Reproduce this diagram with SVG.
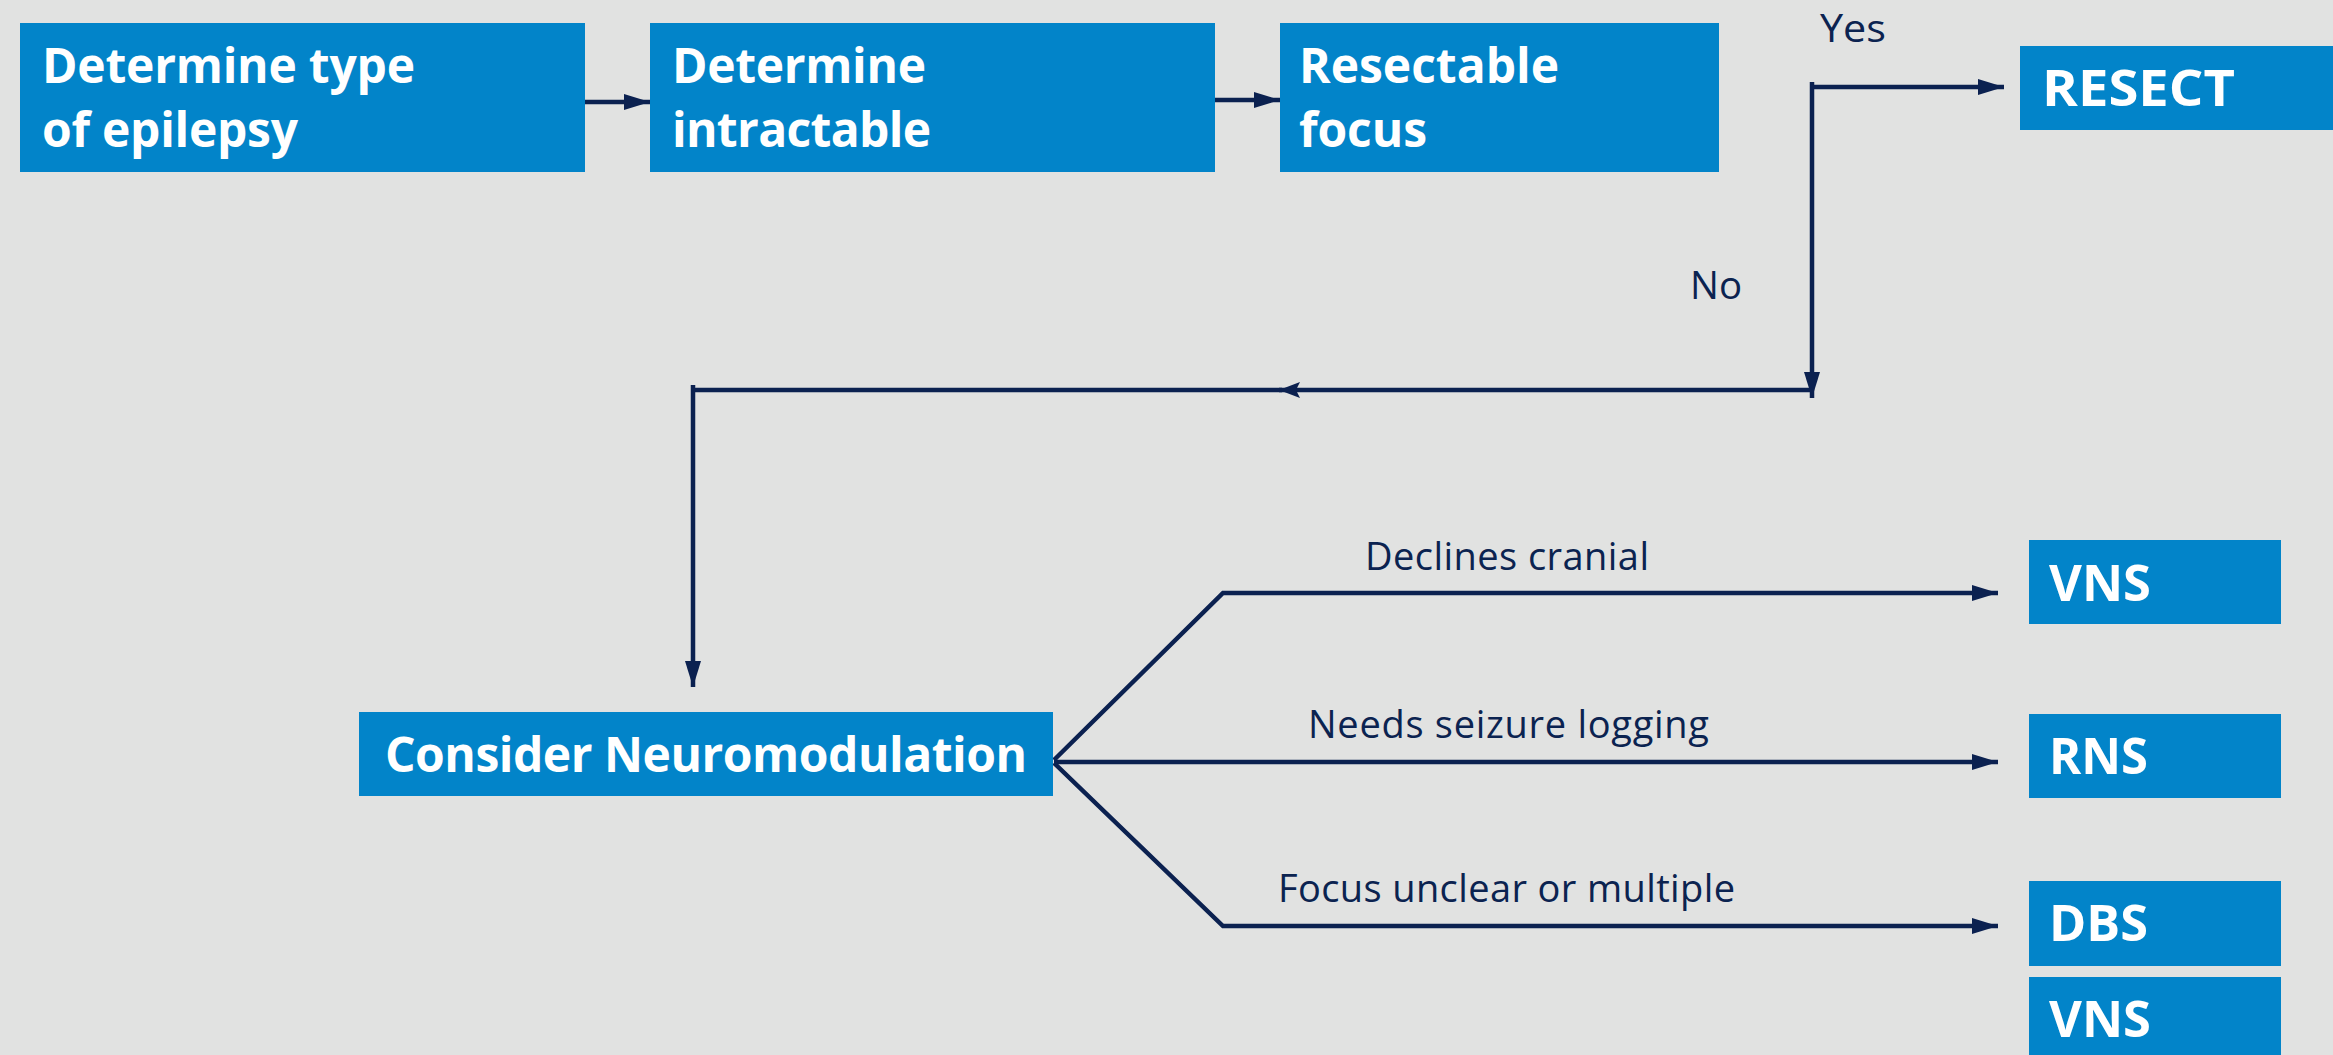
<svg xmlns="http://www.w3.org/2000/svg" width="2333" height="1055" viewBox="0 0 2333 1055">
<defs>
<style>
.box{fill:#0284C9}
.bt{font-family:"Open Sans",Lato,sans-serif;font-weight:700;font-size:48px;fill:#ffffff}
.cap{font-size:50px}
.lbl{font-family:"Open Sans",Lato,sans-serif;font-weight:400;font-size:38px;fill:#0B2350}
.ln{fill:none;stroke:#0B2150;stroke-width:4.5}
</style>
<marker id="ah" markerUnits="userSpaceOnUse" markerWidth="28" markerHeight="18" refX="26" refY="9" orient="auto">
<path d="M0,1 L26,9 L0,17 Z" fill="#0B2150"/>
</marker>
<marker id="ah2" markerUnits="userSpaceOnUse" markerWidth="24" markerHeight="18" refX="21" refY="9" orient="auto">
<path d="M0,1 L21,9 L0,17 L4,9 Z" fill="#0B2150"/>
</marker>
</defs>
<rect width="2333" height="1055" fill="#E1E2E1"/>
<g id="connectors">
<path class="ln" d="M585,102 H650" marker-end="url(#ah)"/>
<path class="ln" d="M1215,100 H1280" marker-end="url(#ah)"/>
<path class="ln" d="M1812,82 V398" marker-end="url(#ah)"/>
<path class="ln" d="M1810,87 H2004" marker-end="url(#ah)"/>
<path class="ln" d="M1812,390 H1279" marker-end="url(#ah2)"/>
<path class="ln" d="M1282,390 H693"/>
<path class="ln" d="M693,385 V687" marker-end="url(#ah)"/>
<path class="ln" d="M1054,760 L1223,593 H1998" marker-end="url(#ah)"/>
<path class="ln" d="M1054,762 H1998" marker-end="url(#ah)"/>
<path class="ln" d="M1054,763 L1223,926 H1998" marker-end="url(#ah)"/>
<text class="lbl" x="1820" y="42" textLength="66" lengthAdjust="spacingAndGlyphs">Yes</text>
<text class="lbl" x="1690" y="299" textLength="52" lengthAdjust="spacingAndGlyphs">No</text>
<text class="lbl" x="1365" y="570" textLength="284">Declines cranial</text>
<text class="lbl" x="1308" y="738" textLength="401">Needs seizure logging</text>
<text class="lbl" x="1278" y="902" textLength="457">Focus unclear or multiple</text>
</g>
<g id="n1"><rect class="box" x="20" y="23" width="565" height="149"/><text class="bt" x="42" y="83" textLength="373">Determine type</text><text class="bt" x="42" y="147" textLength="256">of epilepsy</text></g>
<g id="n2"><rect class="box" x="650" y="23" width="565" height="149"/><text class="bt" x="672" y="83" textLength="254">Determine</text><text class="bt" x="672" y="147" textLength="259">intractable</text></g>
<g id="n3"><rect class="box" x="1280" y="23" width="439" height="149"/><text class="bt" x="1299" y="83" textLength="260">Resectable</text><text class="bt" x="1299" y="147" textLength="128">focus</text></g>
<g id="n4"><rect class="box" x="2020" y="46" width="313" height="84"/><text class="bt cap" x="2042" y="106" textLength="193" lengthAdjust="spacingAndGlyphs">RESECT</text></g>
<g id="n5"><rect class="box" x="359" y="712" width="694" height="84"/><text class="bt" x="385" y="772" textLength="642">Consider Neuromodulation</text></g>
<g id="n6"><rect class="box" x="2029" y="540" width="252" height="84"/><text class="bt cap" x="2049" y="601" textLength="102" lengthAdjust="spacingAndGlyphs">VNS</text></g>
<g id="n7"><rect class="box" x="2029" y="714" width="252" height="84"/><text class="bt cap" x="2049" y="774" textLength="99" lengthAdjust="spacingAndGlyphs">RNS</text></g>
<g id="n8"><rect class="box" x="2029" y="881" width="252" height="85"/><text class="bt cap" x="2049" y="941" textLength="99" lengthAdjust="spacingAndGlyphs">DBS</text></g>
<g id="n9"><rect class="box" x="2029" y="977" width="252" height="78"/><text class="bt cap" x="2049" y="1037" textLength="102" lengthAdjust="spacingAndGlyphs">VNS</text></g>
</svg>
